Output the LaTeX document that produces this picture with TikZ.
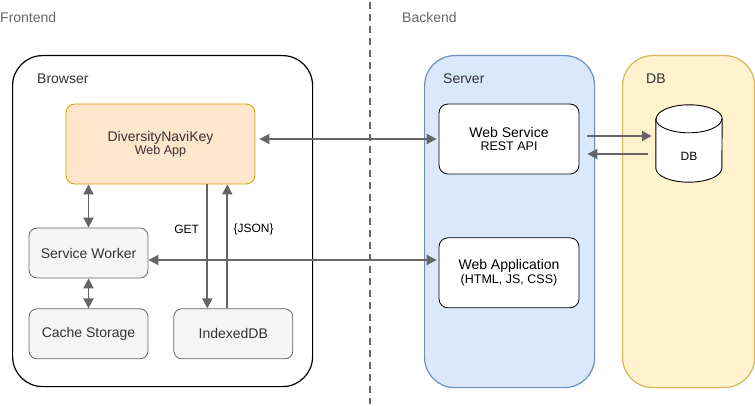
\documentclass[tikz,border=0pt]{standalone}
\usepackage{fontspec}
\setmainfont{Liberation Sans}
\usetikzlibrary{positioning,arrows.meta}
\usepackage{xcolor}
\definecolor{arrgray}{HTML}{666666}
\definecolor{txtgray}{HTML}{333333}
\definecolor{navifill}{HTML}{FFE6CC}
\definecolor{navidraw}{HTML}{D79B00}
\definecolor{greyfill}{HTML}{F5F5F5}
\definecolor{serverfill}{HTML}{DAE8FC}
\definecolor{serverdraw}{HTML}{6C8EBF}
\definecolor{dbfill}{HTML}{FFF2CC}
\definecolor{dbdraw}{HTML}{D6B656}

\begin{document}
\begin{tikzpicture}[
x=1pt, y=-1pt,
font=\fontsize{14}{16.5}\selectfont,
groupbox/.style={rectangle, rounded corners=30pt, line width=1.2pt, anchor=north west},
grouplabel/.style={anchor=west, inner sep=0pt, text=txtgray},
sidelabel/.style={anchor=west, inner sep=0pt, text=arrgray},
appbox/.style={rectangle, rounded corners=9pt, draw=navidraw, fill=navifill, line width=0.8pt, align=center, text=txtgray},
greybox/.style={rectangle, rounded corners=8pt, draw=arrgray, fill=greyfill, line width=0.8pt, minimum width=119pt, minimum height=50pt, text=txtgray},
whitebox/.style={rectangle, rounded corners=9pt, draw=black, fill=white, line width=0.8pt, minimum width=140pt, minimum height=70pt, align=center},
cylline/.style={draw=black, line width=0.9pt},
oneway/.style={draw=arrgray, line width=1.9pt, -{Triangle[length=10pt,width=10pt]}},
twoway/.style={draw=arrgray, line width=1.9pt, {Triangle[length=10pt,width=10pt]}-{Triangle[length=10pt,width=10pt]}},
sepline/.style={draw=arrgray, line width=1.5pt, dash pattern=on 7pt off 5pt},
]
\useasboundingbox (0,0) rectangle (755,406);

%Nodes
%%% Separacion
\coordinate (sepTop) at (370,2);
\coordinate (sepBot) at (370,404);
\node[sidelabel]   (frontLbl) at (0,17) {Frontend};
\node[sidelabel]   (backLbl) at (402,17) {Backend};

%%% Contenedores
\node[groupbox, draw=black, minimum width=300pt, minimum height=331pt] (browser) at (12,55) {};
\node[groupbox, draw=serverdraw, fill=serverfill, minimum width=170pt, minimum height=332pt] (server) at (424,55) {};
\node[groupbox, draw=dbdraw, fill=dbfill, minimum width=132pt, minimum height=332pt] (dbGroup) at (622,55) {};
\node[grouplabel]  (browserLbl) at (37,79) {Browser};
\node[grouplabel]  (serverLbl) at (443,79) {Server};
\node[grouplabel]  (dbGroupLbl) at (646,79) {DB};

%%% Frontend
\node[appbox, minimum width=189pt, minimum height=80pt] (naviKey) at (160.5,144)
  {DiversityNaviKey\\[-3pt]{\fontsize{12.5}{15}\selectfont Web App}};
\node[greybox]     (serviceWorker) at (88.5,253) {Service Worker};
\node[greybox]     (cacheStorage) [below=30pt of serviceWorker] {Cache Storage};
\node[greybox]     (indexedDB) [right=25pt of cacheStorage] {IndexedDB};

%%% Backend
\node[whitebox]    (webService) at (509,139)
  {Web Service\\[-3pt]{\fontsize{12.5}{15}\selectfont REST API}};
\node[whitebox]    (webApp) [below=63pt of webService]
  {Web Application\\[-3pt]{\fontsize{12.5}{15}\selectfont (HTML, JS, CSS)}};

%%% Cilindro DB
\node[rectangle, inner sep=0pt, minimum width=66pt, minimum height=77pt] (dbCyl) at (689,143.5) {};
\filldraw[cylline, fill=white] ([yshift=-14pt]dbCyl.north west) -- ([yshift=14pt]dbCyl.south west)
  arc[start angle=180, end angle=360, x radius=33pt, y radius=14pt]
  -- ([yshift=-14pt]dbCyl.north east)
  arc[start angle=0, end angle=180, x radius=33pt, y radius=14pt] -- cycle;
\draw[cylline] ([yshift=-14pt]dbCyl.north west)
  arc[start angle=180, end angle=360, x radius=33pt, y radius=14pt];
\node[font=\fontsize{12}{14}\selectfont] (dbText) at ([yshift=-13pt]dbCyl.center) {DB};

%Lines
\draw[sepline] (sepTop) -- (sepBot);

%%% Browser
\draw[twoway] (naviKey.south -| serviceWorker.north) -- (serviceWorker.north);
\draw[twoway] (serviceWorker) -- (cacheStorage);
\draw[oneway] ([xshift=-26pt]indexedDB.north |- naviKey.south) -- ([xshift=-26pt]indexedDB.north)
  node[pos=0.36, left=4pt, font=\fontsize{12}{14}\selectfont] {GET};
\draw[oneway] ([xshift=-6pt]indexedDB.north) -- ([xshift=-6pt]indexedDB.north |- naviKey.south)
  node[pos=0.64, right=2pt, font=\fontsize{12}{14}\selectfont] {\{JSON\}};

%%% Hacia el servidor
\draw[twoway, shorten <=4pt, shorten >=2pt] (naviKey.east |- webService.west) -- (webService.west);
\draw[twoway, shorten >=2pt] ([yshift=-7pt]serviceWorker.east) -- ([yshift=-7pt]serviceWorker.east -| webApp.west);

%%% Base de datos
\draw[oneway, shorten <=8pt, shorten >=4pt] ([yshift=3pt]webService.east) -- ([yshift=3pt]webService.east -| dbCyl.west);
\draw[oneway, shorten <=8pt, shorten >=8pt] ([yshift=-15pt]webService.east -| dbCyl.west) -- ([yshift=-15pt]webService.east);

\end{tikzpicture}
\end{document}
